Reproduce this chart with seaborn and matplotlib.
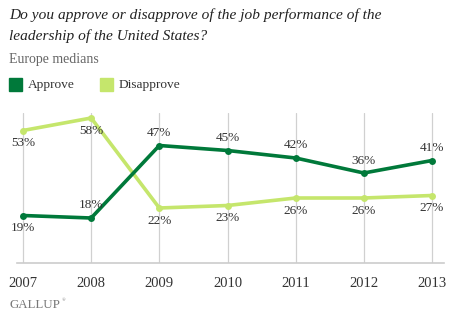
import matplotlib
matplotlib.use("Agg")
import matplotlib.pyplot as plt
import matplotlib.patches as mpatches
import seaborn as sns
import pandas as pd

years = [2007, 2008, 2009, 2010, 2011, 2012, 2013]
approve = [19, 18, 47, 45, 42, 36, 41]
disapprove = [53, 58, 22, 23, 26, 26, 27]
approve_pos = ["below", "above", "above", "above", "above", "above", "above"]
disapprove_pos = ["below", "below", "below", "below", "below", "below", "below"]

sns.set_theme(style="white")
plt.rcParams['font.family'] = ['Liberation Serif', 'DejaVu Serif']

C_APP = "#00793A"
C_DIS = "#C5E66C"

df = pd.DataFrame({
    "year": years * 2,
    "value": approve + disapprove,
    "series": ["Approve"] * len(years) + ["Disapprove"] * len(years),
})

fig = plt.figure(figsize=(4.54, 3.24), dpi=100)
ax = fig.add_axes([17/454, 1-263/324, (444-17)/454, 150/324])

for x in years:
    ax.axvline(x, color="#d0d0d0", lw=0.9, zorder=0)

sns.lineplot(data=df, x="year", y="value", hue="series",
             palette={"Approve": C_APP, "Disapprove": C_DIS},
             hue_order=["Disapprove", "Approve"],
             marker="o", markersize=5, markeredgewidth=0, linewidth=2.6,
             legend=False, ax=ax)

ax.set_xlim(2007 - 6/68.17, 2013 + 12/68.17)
ax.set_ylim(0, 60)
for s in ["top", "right", "left"]:
    ax.spines[s].set_visible(False)
ax.spines["bottom"].set_color("#cccccc")
ax.spines["bottom"].set_linewidth(1.2)
ax.set_yticks([])
ax.set_xticks(years)
ax.set_xticklabels([str(y) for y in years])
ax.tick_params(axis="x", length=0, pad=10, labelsize=10.5, labelcolor="#333333")
ax.set_xlabel("")
ax.set_ylabel("")

def label(vals, pos):
    for x, v, p in zip(years, vals, pos):
        dy = 9 if p == "above" else -9
        ax.annotate(f"{v}%", (x, v), xytext=(0, dy), textcoords="offset points",
                    ha="center", va="center", fontsize=9.5, color="#333333")

label(approve, approve_pos)
label(disapprove, disapprove_pos)

fig.text(9/454, 1-15/324, "Do you approve or disapprove of the job performance of the",
         fontsize=11.1, style="italic", color="#222222", va="center", ha="left")
fig.text(9/454, 1-36/324, "leadership of the United States?",
         fontsize=11.1, style="italic", color="#222222", va="center", ha="left")
fig.text(9/454, 1-59/324, "Europe medians", fontsize=10, color="#666666",
         va="center", ha="left")

fig.patches.append(mpatches.Rectangle((9/454, 1-91/324), 13/454, 13/324,
                                      transform=fig.transFigure, color=C_APP))
fig.text(28/454, 1-85/324, "Approve", fontsize=9.6, color="#333333", va="center")
fig.patches.append(mpatches.Rectangle((100/454, 1-91/324), 13/454, 13/324,
                                      transform=fig.transFigure, color=C_DIS))
fig.text(119/454, 1-85/324, "Disapprove", fontsize=9.6, color="#333333", va="center")

fig.text(9/454, 1-305/324, "GALLUP", fontsize=9.3, color="#777777", va="center")
fig.text(62/454, 1-300/324, "®", fontsize=3.5, color="#777777", va="center")

fig.savefig("out.png", dpi=100)
